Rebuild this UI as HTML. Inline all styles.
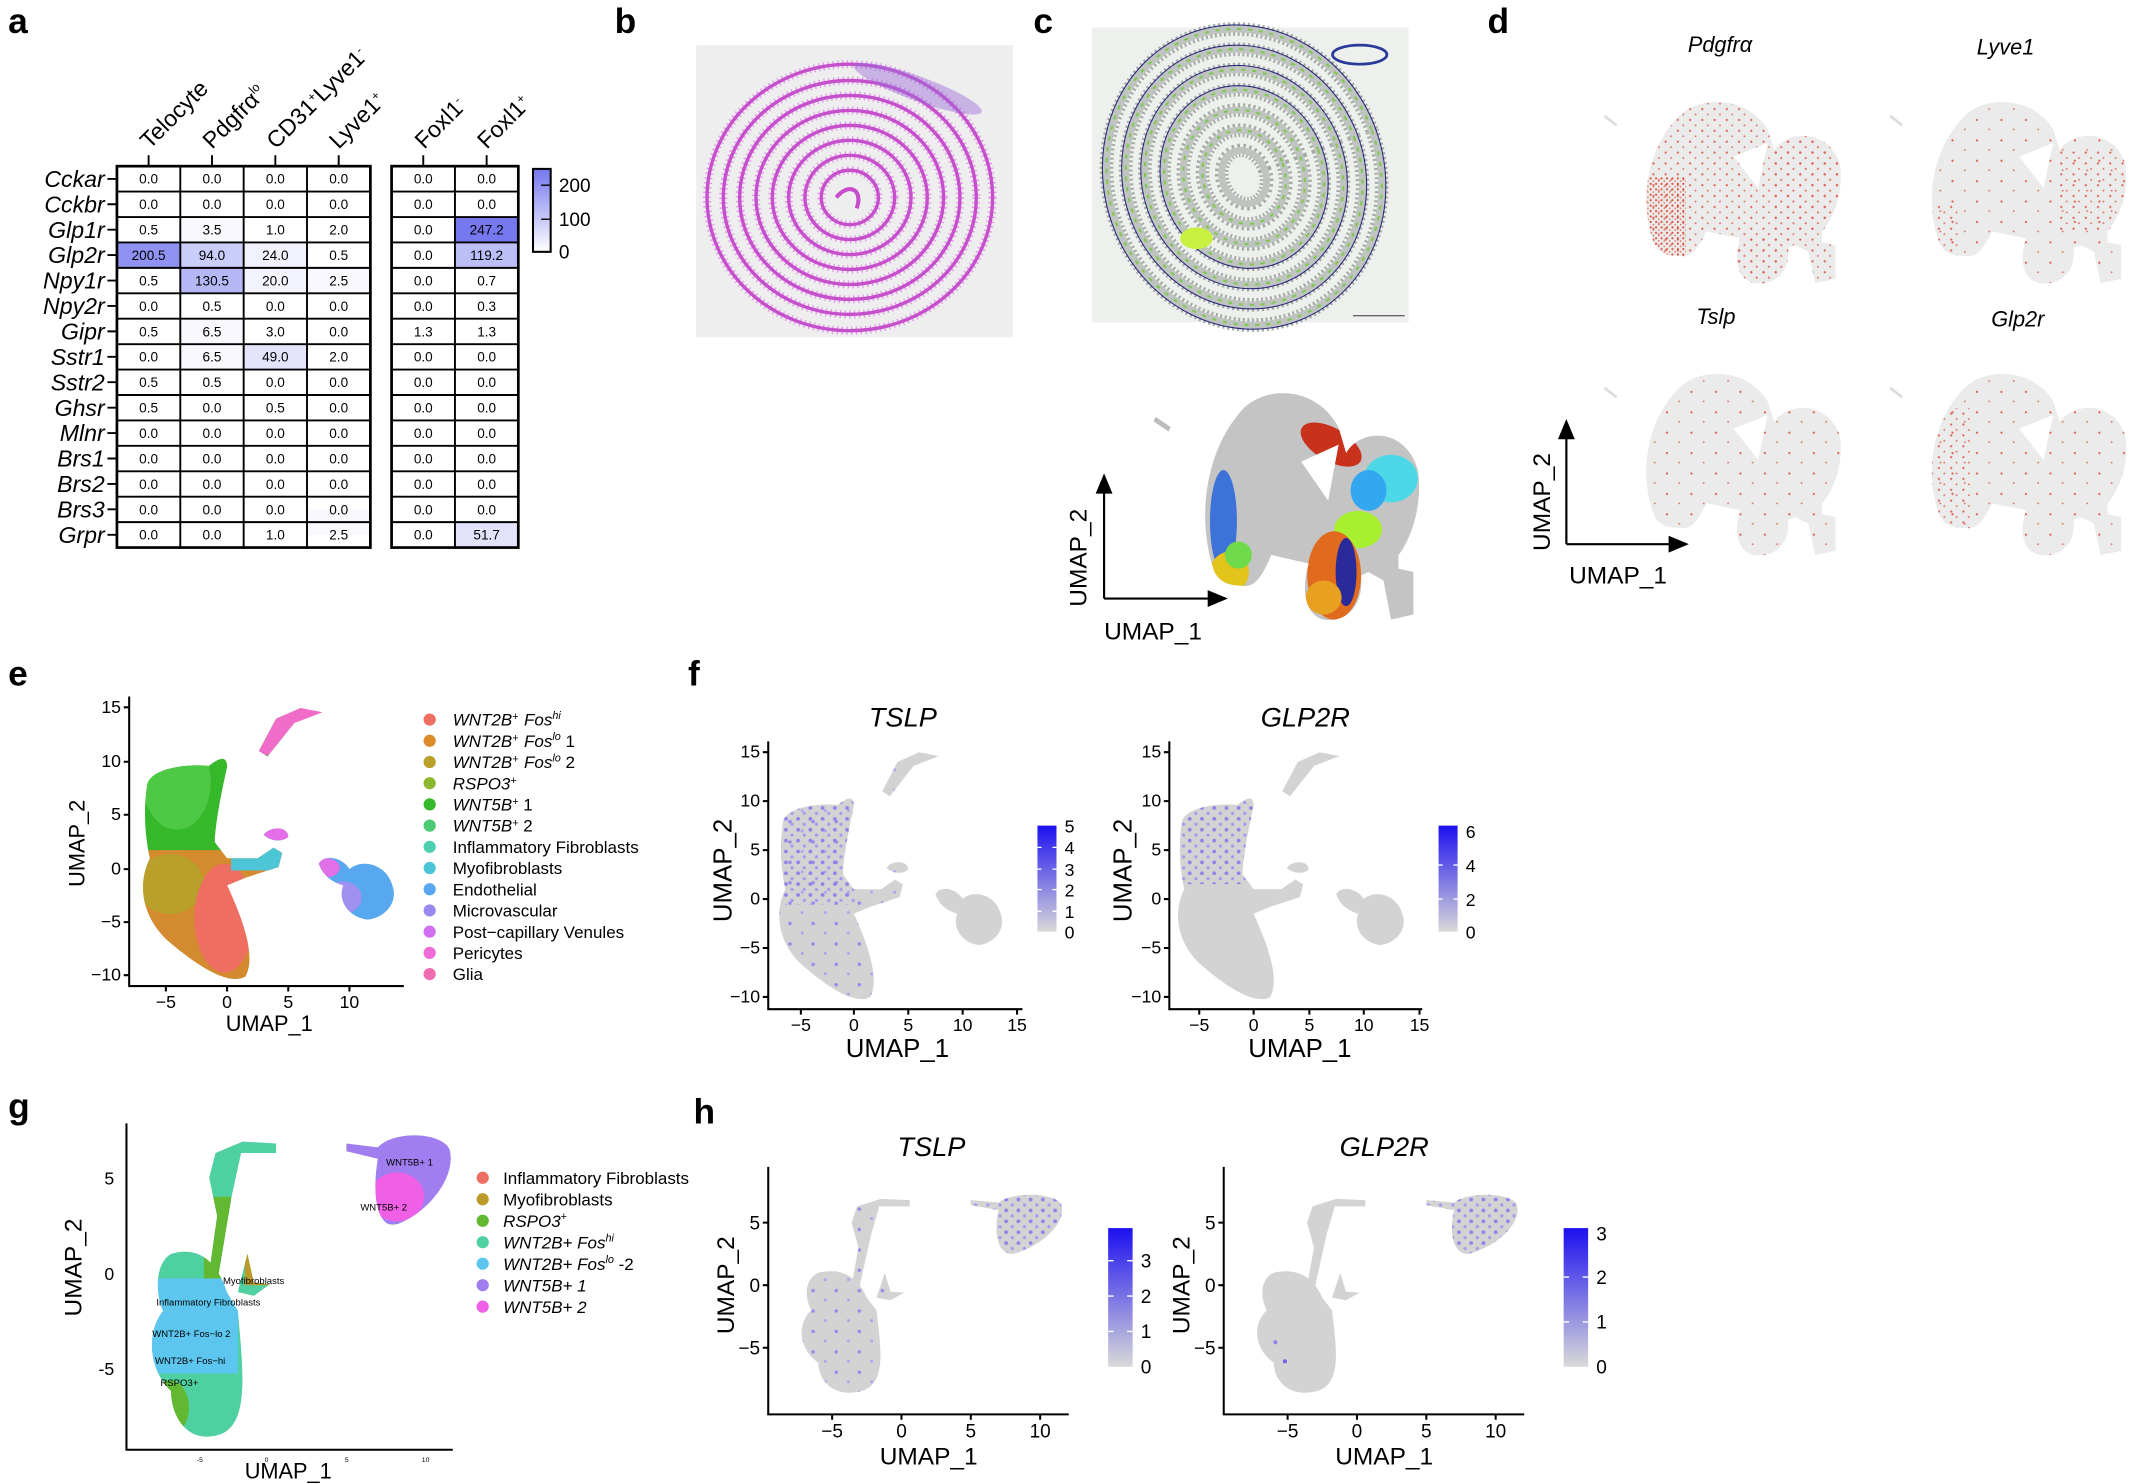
<!DOCTYPE html>
<html><head><meta charset="utf-8">
<style>
html,body{margin:0;padding:0;background:#fff;}
svg{display:block;font-family:"Liberation Sans",Arial,sans-serif;}
.lb{font-weight:bold;font-size:26px;}
.c{font-size:10px;text-anchor:middle;}
.rl{font-style:italic;font-size:17px;text-anchor:end;}
.it{font-style:italic;}
.t13{font-size:13px;}
.lg{font-size:12.5px;}
</style></head>
<body>
<svg width="2132" height="1484" viewBox="0 0 1568 1091" xmlns="http://www.w3.org/2000/svg">
<defs>
<linearGradient id="gh" x1="0" y1="1" x2="0" y2="0"><stop offset="0" stop-color="#ffffff"/><stop offset="1" stop-color="#7377ee"/></linearGradient>
<linearGradient id="gp" x1="0" y1="1" x2="0" y2="0"><stop offset="0" stop-color="#d9d9d9"/><stop offset="1" stop-color="#1c10f0"/></linearGradient>
<pattern id="pd" width="9" height="8" patternUnits="userSpaceOnUse"><circle cx="2" cy="2" r="1.4" fill="#9580ea"/><circle cx="6.5" cy="6" r="1.2" fill="#aa98ee"/></pattern>
<pattern id="pd2" width="17" height="15" patternUnits="userSpaceOnUse"><circle cx="3" cy="4" r="1.3" fill="#9a88ea"/><circle cx="12" cy="11" r="1.1" fill="#b0a2ee"/></pattern>
<pattern id="pr" width="4" height="4" patternUnits="userSpaceOnUse"><circle cx="1" cy="1" r="0.8" fill="#d9523f"/><circle cx="3" cy="3" r="0.6" fill="#e07060"/></pattern>
<pattern id="pr2" width="9" height="8" patternUnits="userSpaceOnUse"><circle cx="2" cy="2" r="0.8" fill="#dc6050"/><circle cx="6" cy="6" r="0.7" fill="#e07868"/></pattern>
<pattern id="pr3" width="18" height="15" patternUnits="userSpaceOnUse"><circle cx="3" cy="3" r="0.8" fill="#dc6050"/><circle cx="12" cy="10" r="0.7" fill="#e07868"/></pattern>
<path id="hum" d="M-6.5,8 C-6,9.5 -3,9.8 -1.5,9.6 C-0.5,10.5 0,10.5 0,9.5 C-0.5,7 -1,4 -1,2.5 L0,1 L2.5,1 L3.8,2 L4.5,1.5 L4.2,0.2 L1.5,-0.8 L0,-1.5 C1,-4 2.5,-8 1.5,-10 C0,-11 -3,-8.5 -5,-6.5 C-7.2,-4 -7.2,-1 -6.3,1 C-6.8,3.5 -6.8,6 -6.5,8 Z M2.6,11 L4,14 L6,15 L7.8,14.6 L5.5,13.6 L3.3,10.5 Z M3,3.2 C3.5,4 5,4 5,3 C4.5,2.5 3.5,2.6 3,3.2 Z M7.5,0.5 C8,1.5 9.5,1 10,0 C11,1 13,0.5 13.5,-1.5 C14,-3 13,-4.5 11.5,-4.7 C10,-4.5 9,-3 9.5,-1.5 C8.5,-1.2 7.8,-0.5 7.5,0.5 Z"/>
<path id="hh" d="M-6,1 C-4,1.5 -3,0.3 -2.5,-1 L-1.8,-2 C-1.5,-5 -1,-8 -3,-8.5 C-5,-9 -6,-7.5 -6,-6.2 C-7.5,-5 -7.5,-3 -6.5,-2 C-7,-1 -7,0.5 -6,1 Z M-3.6,0 L-3.1,3 L-3.6,5 L-3.2,6.3 L-1.5,6.9 L0.6,6.8 L0.6,6.3 L-1.6,6.3 L-2.2,4 L-2.6,2 L-3,0 Z M-1.2,1 L-0.8,-0.5 L0.2,-0.6 L-0.8,-1.2 L-1.8,-1 Z M5,6.8 L7,6.6 C8,7.5 11,7.4 11.5,6.5 C12,5 10,3 8,2.5 C7,2.5 6.6,4 7,6 L5,6.4 Z"/>
<path id="mou" d="M12,110 C0,80 5,40 30,15 C45,0 80,0 95,25 L100,40 C110,25 140,25 148,50 C152,75 140,95 135,100 L135,108 L145,110 L145,135 L130,138 L125,115 L115,110 L110,112 C112,130 100,140 85,138 C72,135 70,120 75,105 L50,100 C45,110 40,120 30,118 C20,118 15,115 12,110 Z"/>
<clipPath id="cm"><use href="#mou"/></clipPath>
<clipPath id="ce"><use href="#hum" transform="translate(167,639) scale(9,-7.9)"/></clipPath>
<clipPath id="cg"><use href="#hh" transform="translate(196,936) scale(11.7,-14)"/></clipPath>
<clipPath id="cf1"><use href="#hum" transform="translate(628,661) scale(8,-7.2)"/></clipPath>
<clipPath id="cf2"><use href="#hum" transform="translate(922,661) scale(8.1,-7.2)"/></clipPath>
<clipPath id="ch1"><use href="#hh" transform="translate(663,945) scale(10.2,-9.2)"/></clipPath>
<clipPath id="ch2"><use href="#hh" transform="translate(998,945) scale(10.2,-9.2)"/></clipPath>
</defs>

<!-- ===== Panel a ===== -->
<text class="lb" x="6" y="24">a</text>
<g>
<rect x="86" y="178.1" width="46.6" height="18.7" fill="rgb(143,146,241)"/>
<rect x="132.6" y="178.1" width="46.6" height="18.7" fill="rgb(202,204,249)"/>
<rect x="179.2" y="178.1" width="46.6" height="18.7" fill="rgb(242,242,253)"/>
<rect x="132.6" y="196.8" width="46.6" height="18.7" fill="rgb(182,184,246)"/>
<rect x="179.2" y="196.8" width="46.6" height="18.7" fill="rgb(244,244,254)"/>
<rect x="179.2" y="252.9" width="46.6" height="18.7" fill="rgb(228,228,252)"/>
<rect x="132.6" y="159.4" width="46.6" height="18.7" fill="#f8f8fe"/>
<rect x="132.6" y="234.2" width="46.6" height="18.7" fill="#f8f8fe"/>
<rect x="132.6" y="252.9" width="46.6" height="18.7" fill="#f8f8fe"/>
<rect x="225.8" y="196.8" width="46.6" height="18.7" fill="#f8f8fe"/>
<rect x="225.8" y="374.5" width="46.6" height="18.7" fill="#f8f8fe"/>
<rect x="334.6" y="159.4" width="46.6" height="18.7" fill="rgb(117,120,238)"/>
<rect x="334.6" y="178.1" width="46.6" height="18.7" fill="rgb(188,190,247)"/>
<rect x="334.6" y="383.8" width="46.6" height="18.7" fill="rgb(226,227,251)"/>
<g stroke="#000" stroke-width="1.4" fill="none">
<rect x="86" y="122" width="186.4" height="280.5" stroke-width="2"/>
<rect x="288" y="122" width="93.2" height="280.5" stroke-width="2"/>
<path d="M132.6,122V402.5M179.2,122V402.5M225.8,122V402.5M334.6,122V402.5"/>
<path d="M86,140.7H272.4M86,159.4H272.4M86,178.1H272.4M86,196.8H272.4M86,215.5H272.4M86,234.2H272.4M86,252.9H272.4M86,271.6H272.4M86,290.3H272.4M86,309H272.4M86,327.7H272.4M86,346.4H272.4M86,365.1H272.4M86,383.8H272.4"/>
<path d="M288,140.7H381.2M288,159.4H381.2M288,178.1H381.2M288,196.8H381.2M288,215.5H381.2M288,234.2H381.2M288,252.9H381.2M288,271.6H381.2M288,290.3H381.2M288,309H381.2M288,327.7H381.2M288,346.4H381.2M288,365.1H381.2M288,383.8H381.2"/>
<path d="M109.3,114V122M155.9,114V122M202.5,114V122M249.1,114V122M311.3,114V122M357.9,114V122"/>
<path d="M79,131.4H86M79,150H86M79,168.7H86M79,187.4H86M79,206.1H86M79,224.8H86M79,243.5H86M79,262.2H86M79,280.9H86M79,299.6H86M79,318.3H86M79,337H86M79,355.7H86M79,374.4H86M79,393.1H86"/>
</g>
<g class="rl">
<text x="77" y="137.4">Cckar</text><text x="77" y="156">Cckbr</text><text x="77" y="174.7">Glp1r</text><text x="77" y="193.4">Glp2r</text><text x="77" y="212.1">Npy1r</text><text x="77" y="230.8">Npy2r</text><text x="77" y="249.5">Gipr</text><text x="77" y="268.2">Sstr1</text><text x="77" y="286.9">Sstr2</text><text x="77" y="305.6">Ghsr</text><text x="77" y="324.3">Mlnr</text><text x="77" y="343">Brs1</text><text x="77" y="361.7">Brs2</text><text x="77" y="380.4">Brs3</text><text x="77" y="399.1">Grpr</text>
</g>
<g class="c">
<g transform="translate(0,134.9)"><text x="109.3">0.0</text><text x="155.9">0.0</text><text x="202.5">0.0</text><text x="249.1">0.0</text><text x="311.3">0.0</text><text x="357.9">0.0</text></g>
<g transform="translate(0,153.6)"><text x="109.3">0.0</text><text x="155.9">0.0</text><text x="202.5">0.0</text><text x="249.1">0.0</text><text x="311.3">0.0</text><text x="357.9">0.0</text></g>
<g transform="translate(0,172.3)"><text x="109.3">0.5</text><text x="155.9">3.5</text><text x="202.5">1.0</text><text x="249.1">2.0</text><text x="311.3">0.0</text><text x="357.9">247.2</text></g>
<g transform="translate(0,191)"><text x="109.3">200.5</text><text x="155.9">94.0</text><text x="202.5">24.0</text><text x="249.1">0.5</text><text x="311.3">0.0</text><text x="357.9">119.2</text></g>
<g transform="translate(0,209.7)"><text x="109.3">0.5</text><text x="155.9">130.5</text><text x="202.5">20.0</text><text x="249.1">2.5</text><text x="311.3">0.0</text><text x="357.9">0.7</text></g>
<g transform="translate(0,228.4)"><text x="109.3">0.0</text><text x="155.9">0.5</text><text x="202.5">0.0</text><text x="249.1">0.0</text><text x="311.3">0.0</text><text x="357.9">0.3</text></g>
<g transform="translate(0,247.1)"><text x="109.3">0.5</text><text x="155.9">6.5</text><text x="202.5">3.0</text><text x="249.1">0.0</text><text x="311.3">1.3</text><text x="357.9">1.3</text></g>
<g transform="translate(0,265.8)"><text x="109.3">0.0</text><text x="155.9">6.5</text><text x="202.5">49.0</text><text x="249.1">2.0</text><text x="311.3">0.0</text><text x="357.9">0.0</text></g>
<g transform="translate(0,284.5)"><text x="109.3">0.5</text><text x="155.9">0.5</text><text x="202.5">0.0</text><text x="249.1">0.0</text><text x="311.3">0.0</text><text x="357.9">0.0</text></g>
<g transform="translate(0,303.2)"><text x="109.3">0.5</text><text x="155.9">0.0</text><text x="202.5">0.5</text><text x="249.1">0.0</text><text x="311.3">0.0</text><text x="357.9">0.0</text></g>
<g transform="translate(0,321.9)"><text x="109.3">0.0</text><text x="155.9">0.0</text><text x="202.5">0.0</text><text x="249.1">0.0</text><text x="311.3">0.0</text><text x="357.9">0.0</text></g>
<g transform="translate(0,340.6)"><text x="109.3">0.0</text><text x="155.9">0.0</text><text x="202.5">0.0</text><text x="249.1">0.0</text><text x="311.3">0.0</text><text x="357.9">0.0</text></g>
<g transform="translate(0,359.3)"><text x="109.3">0.0</text><text x="155.9">0.0</text><text x="202.5">0.0</text><text x="249.1">0.0</text><text x="311.3">0.0</text><text x="357.9">0.0</text></g>
<g transform="translate(0,378)"><text x="109.3">0.0</text><text x="155.9">0.0</text><text x="202.5">0.0</text><text x="249.1">0.0</text><text x="311.3">0.0</text><text x="357.9">0.0</text></g>
<g transform="translate(0,396.7)"><text x="109.3">0.0</text><text x="155.9">0.0</text><text x="202.5">1.0</text><text x="249.1">2.5</text><text x="311.3">0.0</text><text x="357.9">51.7</text></g>
</g>
<g style="font-size:17px">
<text transform="translate(110,110) rotate(-45)">Telocyte</text>
<text transform="translate(156,110) rotate(-45)">Pdgfrα<tspan dy="-7" style="font-size:9px">lo</tspan></text>
<text transform="translate(203,110) rotate(-45)">CD31<tspan dy="-6" style="font-size:9px">+</tspan><tspan dy="6">Lyve1</tspan><tspan dy="-6" style="font-size:9px">-</tspan></text>
<text transform="translate(249,110) rotate(-45)">Lyve1<tspan dy="-6" style="font-size:9px">+</tspan></text>
<text transform="translate(312,110) rotate(-45)">Foxl1<tspan dy="-6" style="font-size:9px">-</tspan></text>
<text transform="translate(358,110) rotate(-45)">Foxl1<tspan dy="-6" style="font-size:9px">+</tspan></text>
</g>
</g>
<rect x="392" y="124" width="13" height="61" fill="url(#gh)" stroke="#000" stroke-width="1.5"/>
<g stroke="#000" stroke-width="1"><line x1="398" y1="136" x2="405" y2="136"/><line x1="398" y1="161" x2="405" y2="161"/></g>
<text x="411" y="141" style="font-size:14px">200</text>
<text x="411" y="166" style="font-size:14px">100</text>
<text x="411" y="190" style="font-size:14px">0</text>

<!-- ===== Panel b ===== -->
<text class="lb" x="452" y="24">b</text>
<rect x="512" y="33" width="233" height="215" fill="#eeeeee"/>
<g fill="none" transform="translate(625,145)">
 <g stroke="#e49aec" stroke-width="6" stroke-dasharray="1 2.5">
  <ellipse rx="105" ry="98"/><ellipse rx="93" ry="86"/><ellipse rx="81" ry="75"/><ellipse rx="69" ry="64"/><ellipse rx="57" ry="53"/><ellipse rx="45" ry="42"/><ellipse rx="33" ry="31"/><ellipse rx="21" ry="20"/>
 </g>
 <g stroke="#c650cc" stroke-width="2.5">
  <ellipse rx="105" ry="98"/><ellipse rx="93" ry="86"/><ellipse rx="81" ry="75"/><ellipse rx="69" ry="64"/><ellipse rx="57" ry="53"/><ellipse rx="45" ry="42"/><ellipse rx="33" ry="31"/><ellipse rx="21" ry="20"/>
 </g>
 <ellipse cx="50" cy="-80" rx="50" ry="9" fill="#9a6ad8" opacity="0.45" transform="rotate(20 50 -80)"/>
 <path d="M-10,0 C0,-12 10,-5 5,8" stroke="#c84ccc" stroke-width="3"/>
</g>

<!-- ===== Panel c ===== -->
<text class="lb" x="760" y="24">c</text>
<rect x="803" y="20" width="233" height="217" fill="#eef0ee"/>
<g fill="none" transform="translate(915,130) rotate(-20)">
 <g stroke="#a4aaa6" stroke-width="10" stroke-dasharray="1.5 2">
  <ellipse rx="100" ry="110"/><ellipse rx="86" ry="95"/><ellipse rx="72" ry="80"/><ellipse rx="58" ry="65"/><ellipse rx="44" ry="50"/><ellipse rx="30" ry="35"/><ellipse rx="16" ry="20"/>
 </g>
 <g stroke="#c0c4c0" stroke-width="5">
  <ellipse rx="100" ry="110"/><ellipse rx="86" ry="95"/><ellipse rx="72" ry="80"/><ellipse rx="58" ry="65"/><ellipse rx="44" ry="50"/><ellipse rx="30" ry="35"/><ellipse rx="16" ry="20"/>
 </g>
 <g stroke="#7ec850" stroke-width="1.5" stroke-dasharray="3 5">
  <ellipse rx="100" ry="110"/><ellipse rx="86" ry="95"/><ellipse rx="72" ry="80"/><ellipse rx="58" ry="65"/><ellipse rx="44" ry="50"/><ellipse rx="30" ry="35"/>
 </g>
 <g stroke="#2a2a7a" stroke-width="0.8">
  <ellipse rx="103" ry="113"/><ellipse rx="89" ry="98"/><ellipse rx="75" ry="83"/><ellipse rx="61" ry="68"/>
 </g>
</g>
<ellipse cx="1000" cy="40" rx="20" ry="7" fill="none" stroke="#2a3a9a" stroke-width="2"/>
<ellipse cx="880" cy="175" rx="12" ry="8" fill="#c8f040"/>
<line x1="995" y1="232" x2="1033" y2="232" stroke="#333" stroke-width="0.8"/>
<g transform="translate(880,283) scale(1.1,1.25)">
 <use href="#mou" fill="#c4c4c4"/>
 <g clip-path="url(#cm)">
  <ellipse cx="90" cy="35" rx="22" ry="10" fill="#c8321c" transform="rotate(25 90 35)"/>
  <ellipse cx="18" cy="80" rx="9" ry="30" fill="#3d72d8"/>
  <ellipse cx="22" cy="110" rx="13" ry="12" fill="#e2c41a"/>
  <ellipse cx="28" cy="100" rx="9" ry="8" fill="#6fdb4a"/>
  <ellipse cx="130" cy="55" rx="18" ry="14" fill="#4dd8e8"/>
  <ellipse cx="115" cy="62" rx="12" ry="12" fill="#33a8f0"/>
  <ellipse cx="108" cy="85" rx="16" ry="11" fill="#a8f030"/>
  <ellipse cx="92" cy="112" rx="18" ry="26" fill="#e06a1e"/>
  <ellipse cx="100" cy="110" rx="7" ry="20" fill="#2a2a9a"/>
  <ellipse cx="85" cy="125" rx="12" ry="10" fill="#e8a020"/>
 </g>
 <path d="M70,45 L95,35 L88,68 Z" fill="#fff"/>
 <path d="M-28,20 L-18,26" stroke="#bbb" stroke-width="3"/>
</g>
<g stroke="#000" stroke-width="1.6" fill="#000">
 <line x1="812" y1="440" x2="812" y2="358"/><path d="M812,350 L807,362 L817,362 Z"/>
 <line x1="812" y1="440" x2="893" y2="440"/><path d="M901,440 L889,435 L889,445 Z"/>
</g>
<text transform="translate(799,446) rotate(-90)" style="font-size:18px">UMAP_2</text>
<text x="812" y="470" style="font-size:18px">UMAP_1</text>

<!-- ===== Panel d ===== -->
<text class="lb" x="1094" y="24">d</text>
<text class="it" x="1265" y="38" style="font-size:16px" text-anchor="middle">Pdgfrα</text>
<text class="it" x="1475" y="40" style="font-size:16px" text-anchor="middle">Lyve1</text>
<text class="it" x="1262" y="238" style="font-size:16px" text-anchor="middle">Tslp</text>
<text class="it" x="1484" y="240" style="font-size:16px" text-anchor="middle">Glp2r</text>
<g transform="translate(1205,70)">
 <use href="#mou" fill="#ebebeb"/>
 <g clip-path="url(#cm)">
  <rect x="0" y="0" width="150" height="140" fill="url(#pr2)"/>
  <rect x="0" y="60" width="35" height="60" fill="url(#pr)"/>
  <rect x="100" y="30" width="50" height="70" fill="url(#pr2)"/>
  <rect x="70" y="100" width="40" height="40" fill="url(#pr2)"/>
 </g>
 <path d="M70,45 L95,35 L88,68 Z" fill="#fff"/><path d="M-25,15 L-16,22" stroke="#ddd" stroke-width="2"/>
</g>
<g transform="translate(1415,70)">
 <use href="#mou" fill="#ebebeb"/>
 <g clip-path="url(#cm)">
  <rect x="0" y="0" width="150" height="140" fill="url(#pr3)"/>
  <rect x="100" y="40" width="50" height="60" fill="url(#pr2)"/>
  <rect x="0" y="80" width="25" height="40" fill="url(#pr2)"/>
 </g>
 <path d="M70,45 L95,35 L88,68 Z" fill="#fff"/><path d="M-25,15 L-16,22" stroke="#ddd" stroke-width="2"/>
</g>
<g transform="translate(1205,270)">
 <use href="#mou" fill="#ebebeb"/>
 <g clip-path="url(#cm)"><rect x="0" y="0" width="150" height="140" fill="url(#pr3)"/></g>
 <path d="M70,45 L95,35 L88,68 Z" fill="#fff"/><path d="M-25,15 L-16,22" stroke="#ddd" stroke-width="2"/>
</g>
<g transform="translate(1415,270)">
 <use href="#mou" fill="#ebebeb"/>
 <g clip-path="url(#cm)">
  <rect x="0" y="0" width="150" height="140" fill="url(#pr3)"/>
  <rect x="0" y="30" width="35" height="90" fill="url(#pr2)"/>
 </g>
 <path d="M70,45 L95,35 L88,68 Z" fill="#fff"/><path d="M-25,15 L-16,22" stroke="#ddd" stroke-width="2"/>
</g>
<g stroke="#000" stroke-width="1.6" fill="#000">
 <line x1="1152" y1="400" x2="1152" y2="318"/><path d="M1152,310 L1147,322 L1157,322 Z"/>
 <line x1="1152" y1="400" x2="1232" y2="400"/><path d="M1240,400 L1228,395 L1228,405 Z"/>
</g>
<text transform="translate(1140,405) rotate(-90)" style="font-size:18px">UMAP_2</text>
<text x="1154" y="429" style="font-size:18px">UMAP_1</text>

<!-- ===== Panel e ===== -->
<text class="lb" x="6" y="504">e</text>
<use href="#hum" transform="translate(167,639) scale(9,-7.9)" fill="#ccc"/>
<g clip-path="url(#ce)">
  <rect x="90" y="510" width="120" height="130" fill="#35b82a"/>
  <ellipse cx="130" cy="575" rx="25" ry="35" fill="#4ec945"/>
  <rect x="90" y="625" width="120" height="110" fill="#d48a2e"/>
  <ellipse cx="125" cy="650" rx="25" ry="22" fill="#b8a02a"/>
  <ellipse cx="165" cy="675" rx="22" ry="40" fill="#ee6e62"/>
  <rect x="170" y="610" width="45" height="30" fill="#4cc6d6"/>
  <rect x="190" y="590" width="40" height="30" fill="#e56ee8"/>
  <rect x="185" y="510" width="70" height="45" fill="#f06cc8"/>
  <rect x="230" y="600" width="70" height="80" fill="#58a8f0"/>
  <ellipse cx="252" cy="660" rx="14" ry="12" fill="#a090f0"/>
  <ellipse cx="240" cy="638" rx="10" ry="7" fill="#e070e8"/>
</g>
<g stroke="#000" stroke-width="1.5" fill="none"><path d="M95,512V725H297"/><path d="M122,725v4M167,725v4M212,725v4M257,725v4M91,520h4M91,560h4M91,599h4M91,639h4M91,678h4M91,717h4"/></g>
<g class="t13" text-anchor="middle"><text x="122" y="741">−5</text><text x="167" y="741">0</text><text x="212" y="741">5</text><text x="257" y="741">10</text></g>
<g class="t13" text-anchor="end"><text x="89" y="524">15</text><text x="89" y="564">10</text><text x="89" y="603">5</text><text x="89" y="643">0</text><text x="89" y="682">−5</text><text x="89" y="721">−10</text></g>
<text x="198" y="758" text-anchor="middle" style="font-size:16px">UMAP_1</text>
<text transform="translate(62,620) rotate(-90)" text-anchor="middle" style="font-size:16px">UMAP_2</text>
<g class="lg">
<circle cx="316" cy="529" r="4.5" fill="#ee6e62"/><text x="333" y="533.5"><tspan class="it">WNT2B</tspan><tspan style="font-size:8px" dy="-4">+</tspan><tspan class="it" dy="4" dx="4">Fos</tspan><tspan style="font-size:8px" dy="-5" class="it">hi</tspan></text>
<circle cx="316" cy="544.6" r="4.5" fill="#dc8a2a"/><text x="333" y="549.1"><tspan class="it">WNT2B</tspan><tspan style="font-size:8px" dy="-4">+</tspan><tspan class="it" dy="4" dx="4">Fos</tspan><tspan style="font-size:8px" dy="-5" class="it">lo</tspan><tspan dy="5"> 1</tspan></text>
<circle cx="316" cy="560.2" r="4.5" fill="#b8a02a"/><text x="333" y="564.7"><tspan class="it">WNT2B</tspan><tspan style="font-size:8px" dy="-4">+</tspan><tspan class="it" dy="4" dx="4">Fos</tspan><tspan style="font-size:8px" dy="-5" class="it">lo</tspan><tspan dy="5"> 2</tspan></text>
<circle cx="316" cy="575.8" r="4.5" fill="#8cb830"/><text x="333" y="580.3"><tspan class="it">RSPO3</tspan><tspan style="font-size:8px" dy="-4">+</tspan></text>
<circle cx="316" cy="591.4" r="4.5" fill="#35b82a"/><text x="333" y="595.9"><tspan class="it">WNT5B</tspan><tspan style="font-size:8px" dy="-4">+</tspan><tspan dy="4"> 1</tspan></text>
<circle cx="316" cy="607" r="4.5" fill="#4ec975"/><text x="333" y="611.5"><tspan class="it">WNT5B</tspan><tspan style="font-size:8px" dy="-4">+</tspan><tspan dy="4"> 2</tspan></text>
<circle cx="316" cy="622.6" r="4.5" fill="#4cd0b0"/><text x="333" y="627.1">Inflammatory Fibroblasts</text>
<circle cx="316" cy="638.2" r="4.5" fill="#4cc6d6"/><text x="333" y="642.7">Myofibroblasts</text>
<circle cx="316" cy="653.8" r="4.5" fill="#58a8f0"/><text x="333" y="658.3">Endothelial</text>
<circle cx="316" cy="669.4" r="4.5" fill="#9a8af0"/><text x="333" y="673.9">Microvascular</text>
<circle cx="316" cy="685" r="4.5" fill="#d070f0"/><text x="333" y="689.5">Post−capillary Venules</text>
<circle cx="316" cy="700.6" r="4.5" fill="#f06cd8"/><text x="333" y="705.1">Pericytes</text>
<circle cx="316" cy="716.2" r="4.5" fill="#f06cb0"/><text x="333" y="720.7">Glia</text>
</g>

<!-- ===== Panel f ===== -->
<text class="lb" x="506" y="504">f</text>
<use href="#hum" transform="translate(628,661) scale(8,-7.2)" fill="#d3d3d3"/>
<g clip-path="url(#cf1)"><rect x="560" y="540" width="100" height="210" fill="url(#pd2)"/><rect x="570" y="580" width="60" height="85" fill="url(#pd)"/></g>
<g stroke="#000" stroke-width="1.5" fill="none"><path d="M565,545V742H752"/><path d="M589,742v4M628,742v4M668,742v4M708,742v4M748,742v4M561,553h4M561,589h4M561,625h4M561,661h4M561,697h4M561,733h4"/></g>
<g class="t13" text-anchor="middle"><text x="589" y="758">−5</text><text x="628" y="758">0</text><text x="668" y="758">5</text><text x="708" y="758">10</text><text x="748" y="758">15</text></g>
<g class="t13" text-anchor="end"><text x="559" y="557">15</text><text x="559" y="593">10</text><text x="559" y="629">5</text><text x="559" y="665">0</text><text x="559" y="701">−5</text><text x="559" y="737">−10</text></g>
<text x="664" y="534" text-anchor="middle" class="it" style="font-size:20px">TSLP</text>
<text x="660" y="777" text-anchor="middle" style="font-size:19px">UMAP_1</text>
<text transform="translate(538,640) rotate(-90)" text-anchor="middle" style="font-size:19px">UMAP_2</text>
<rect x="763" y="607" width="14" height="78" fill="url(#gp)"/>
<g stroke="#fff"><path d="M763,623h3M774,623h3M763,639h3M774,639h3M763,654h3M774,654h3M763,670h3M774,670h3"/></g>
<g class="t13"><text x="783" y="612">5</text><text x="783" y="628">4</text><text x="783" y="644">3</text><text x="783" y="659">2</text><text x="783" y="675">1</text><text x="783" y="690">0</text></g>
<use href="#hum" transform="translate(922,661) scale(8.1,-7.2)" fill="#d3d3d3"/>
<g clip-path="url(#cf2)"><rect x="865" y="585" width="60" height="65" fill="url(#pd)"/></g>
<g stroke="#000" stroke-width="1.5" fill="none"><path d="M860,545V742H1046"/><path d="M882,742v4M922,742v4M963,742v4M1003,742v4M1044,742v4M856,553h4M856,589h4M856,625h4M856,661h4M856,697h4M856,733h4"/></g>
<g class="t13" text-anchor="middle"><text x="882" y="758">−5</text><text x="922" y="758">0</text><text x="963" y="758">5</text><text x="1003" y="758">10</text><text x="1044" y="758">15</text></g>
<g class="t13" text-anchor="end"><text x="854" y="557">15</text><text x="854" y="593">10</text><text x="854" y="629">5</text><text x="854" y="665">0</text><text x="854" y="701">−5</text><text x="854" y="737">−10</text></g>
<text x="960" y="534" text-anchor="middle" class="it" style="font-size:20px">GLP2R</text>
<text x="956" y="777" text-anchor="middle" style="font-size:19px">UMAP_1</text>
<text transform="translate(832,640) rotate(-90)" text-anchor="middle" style="font-size:19px">UMAP_2</text>
<rect x="1058" y="607" width="14" height="78" fill="url(#gp)"/>
<g stroke="#fff"><path d="M1058,636h3M1069,636h3M1058,661h3M1069,661h3"/></g>
<g class="t13"><text x="1078" y="616">6</text><text x="1078" y="641">4</text><text x="1078" y="666">2</text><text x="1078" y="690">0</text></g>

<!-- ===== Panel g ===== -->
<text class="lb" x="6" y="822">g</text>
<use href="#hh" transform="translate(196,936) scale(11.7,-14)" fill="#ccc"/>
<g clip-path="url(#cg)">
  <rect x="90" y="820" width="150" height="250" fill="#4fd0a0"/>
  <rect x="95" y="940" width="80" height="70" fill="#5cc6ee"/>
  <ellipse cx="125" cy="1035" rx="14" ry="20" fill="#62b830"/>
  <rect x="150" y="880" width="20" height="60" fill="#62b830"/>
  <rect x="180" y="915" width="30" height="30" fill="#bb9a2a"/>
  <rect x="255" y="820" width="90" height="80" fill="#a07ef0"/>
  <ellipse cx="292" cy="880" rx="20" ry="18" fill="#f060e6"/>
</g>
<g style="font-size:7px">
  <text x="284" y="857">WNT5B+ 1</text><text x="265" y="890">WNT5B+ 2</text>
  <text x="164" y="944">Myofibroblasts</text><text x="115" y="960">Inflammatory Fibroblasts</text>
  <text x="112" y="983">WNT2B+ Fos−lo 2</text><text x="114" y="1003">WNT2B+ Fos−hi</text><text x="118" y="1019">RSPO3+</text>
</g>
<g stroke="#000" stroke-width="1.5" fill="none"><path d="M93,826V1066H333"/></g>
<g style="font-size:5px" text-anchor="middle"><text x="147" y="1075">-5</text><text x="196" y="1075">0</text><text x="255" y="1075">5</text><text x="313" y="1075">10</text></g>
<g class="t13" text-anchor="end"><text x="84" y="871">5</text><text x="84" y="941">0</text><text x="84" y="1011">-5</text></g>
<text x="212" y="1087" text-anchor="middle" style="font-size:16px">UMAP_1</text>
<text transform="translate(60,932) rotate(-90)" text-anchor="middle" style="font-size:18px">UMAP_2</text>
<g class="lg">
<circle cx="355" cy="866" r="4.5" fill="#ee6e62"/><text x="370" y="870.5">Inflammatory Fibroblasts</text>
<circle cx="355" cy="881.8" r="4.5" fill="#bb9a2a"/><text x="370" y="886.3">Myofibroblasts</text>
<circle cx="355" cy="897.6" r="4.5" fill="#62b830"/><text x="370" y="902.1"><tspan class="it">RSPO3</tspan><tspan dy="-5" style="font-size:8px">+</tspan></text>
<circle cx="355" cy="913.4" r="4.5" fill="#4fd0a0"/><text x="370" y="917.9"><tspan class="it">WNT2B+ Fos</tspan><tspan dy="-5" style="font-size:8px" class="it">hi</tspan></text>
<circle cx="355" cy="929.2" r="4.5" fill="#5cc6ee"/><text x="370" y="933.7"><tspan class="it">WNT2B+ Fos</tspan><tspan dy="-5" style="font-size:8px" class="it">lo</tspan><tspan dy="5"> -2</tspan></text>
<circle cx="355" cy="945" r="4.5" fill="#a07ef0"/><text x="370" y="949.5" class="it">WNT5B+ 1</text>
<circle cx="355" cy="960.8" r="4.5" fill="#f060e6"/><text x="370" y="965.3" class="it">WNT5B+ 2</text>
</g>

<!-- ===== Panel h ===== -->
<text class="lb" x="510" y="826">h</text>
<use href="#hh" transform="translate(663,945) scale(10.2,-9.2)" fill="#d3d3d3"/>
<g clip-path="url(#ch1)"><rect x="580" y="870" width="100" height="160" fill="url(#pd2)"/><rect x="710" y="870" width="85" height="60" fill="url(#pd)"/></g>
<g stroke="#000" stroke-width="1.5" fill="none"><path d="M565,858V1040H786"/><path d="M612,1040v4M663,1040v4M714,1040v4M765,1040v4M561,899h4M561,945h4M561,991h4"/></g>
<g style="font-size:14px" text-anchor="middle"><text x="612" y="1057">−5</text><text x="663" y="1057">0</text><text x="714" y="1057">5</text><text x="765" y="1057">10</text></g>
<g style="font-size:14px" text-anchor="end"><text x="559" y="904">5</text><text x="559" y="950">0</text><text x="559" y="996">−5</text></g>
<text x="685" y="850" text-anchor="middle" class="it" style="font-size:20px">TSLP</text>
<text x="683" y="1077" text-anchor="middle" style="font-size:18px">UMAP_1</text>
<text transform="translate(540,945) rotate(-90)" text-anchor="middle" style="font-size:18px">UMAP_2</text>
<rect x="815" y="903" width="18" height="102" fill="url(#gp)"/>
<g stroke="#fff"><path d="M815,927h4M829,927h4M815,953h4M829,953h4M815,979h4M829,979h4"/></g>
<g style="font-size:14px"><text x="839" y="932">3</text><text x="839" y="958">2</text><text x="839" y="984">1</text><text x="839" y="1010">0</text></g>
<use href="#hh" transform="translate(998,945) scale(10.2,-9.2)" fill="#d3d3d3"/>
<g clip-path="url(#ch2)"><rect x="1045" y="870" width="85" height="60" fill="url(#pd)"/></g>
<circle cx="938" cy="987" r="1.5" fill="#9580ea"/><circle cx="945" cy="1001" r="1.5" fill="#7a60e6"/>
<g stroke="#000" stroke-width="1.5" fill="none"><path d="M900,858V1040H1121"/><path d="M947,1040v4M998,1040v4M1049,1040v4M1100,1040v4M896,899h4M896,945h4M896,991h4"/></g>
<g style="font-size:14px" text-anchor="middle"><text x="947" y="1057">−5</text><text x="998" y="1057">0</text><text x="1049" y="1057">5</text><text x="1100" y="1057">10</text></g>
<g style="font-size:14px" text-anchor="end"><text x="894" y="904">5</text><text x="894" y="950">0</text><text x="894" y="996">−5</text></g>
<text x="1018" y="850" text-anchor="middle" class="it" style="font-size:20px">GLP2R</text>
<text x="1018" y="1077" text-anchor="middle" style="font-size:18px">UMAP_1</text>
<text transform="translate(875,945) rotate(-90)" text-anchor="middle" style="font-size:18px">UMAP_2</text>
<rect x="1150" y="903" width="18" height="102" fill="url(#gp)"/>
<g stroke="#fff"><path d="M1150,939h4M1164,939h4M1150,972h4M1164,972h4"/></g>
<g style="font-size:14px"><text x="1174" y="912">3</text><text x="1174" y="944">2</text><text x="1174" y="977">1</text><text x="1174" y="1010">0</text></g>
</svg>
</body></html>
